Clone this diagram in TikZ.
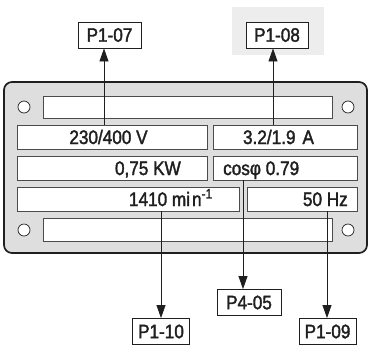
\documentclass[tikz,border=0pt]{standalone}
\usepackage{fontspec}
\setmainfont{Liberation Sans}[FakeStretch=0.88,FakeBold=1.8]
\usetikzlibrary{arrows.meta}
\definecolor{platefill}{gray}{0.87}
\definecolor{bgfill}{gray}{0.93}
\definecolor{ink}{gray}{0.12}
\begin{document}
\begin{tikzpicture}[x=1pt,y=-1pt,
  platebox/.style={draw=ink, line width=1.7pt, fill=platefill, rounded corners=8pt, inner sep=0pt, minimum width=363pt, minimum height=171pt},
  field/.style={draw=ink!80, line width=0.8pt, fill=white, inner sep=0pt, minimum height=24pt},
  txt/.style={font=\fontsize{19.5}{23}\selectfont, text=ink, inner sep=0pt},
  lbl/.style={draw=ink, line width=0.9pt, fill=white, inner sep=0pt, minimum height=26pt, font=\fontsize{19.5}{23}\selectfont, text=ink},
  hole/.style={circle, draw=ink, line width=0.7pt, fill=white, minimum size=12pt, inner sep=0pt},
  arr/.style={-{Triangle[length=13pt,width=9pt]}, line width=0.8pt, draw=ink},
  bgbox/.style={fill=bgfill, inner sep=0pt, minimum width=92pt, minimum height=48pt}
]
\useasboundingbox (0,0) rectangle (369,346);
% grey background behind P1-08
\node[bgbox] (bg108) at (278,31) {};
% plate
\node[platebox] (plate) at (185.5,167.5) {};
% holes
\node[hole] (h1) at (24,107) {};
\node[hole] (h2) at (348,107) {};
\node[hole] (h3) at (24,230) {};
\node[hole] (h4) at (348,230) {};
% fields
\node[field, minimum width=289pt, minimum height=22pt] (topbar) at (187.5,107) {};
\node[field, minimum width=190pt] (v) at (112,137) {};
\node[field, minimum width=144pt] (a) at (285,137) {};
\node[field, minimum width=190pt] (kw) at (112,168) {};
\node[field, minimum width=144pt] (cos) at (285,168) {};
\node[field, minimum width=222pt] (rpm) at (128,199) {};
\node[field, minimum width=110pt] (hz) at (302,199) {};
\node[field, minimum width=289pt, minimum height=23pt] (botbar) at (187.5,229.5) {};
% texts
\node[txt, anchor=base] (vt) at (108.5,144) {230/400 V};
\node[txt, anchor=base] (at) at (278.5,144) {3.2/1.9\hspace{7pt}A};
\node[txt, anchor=base east] (kwt) at (181,175) {0,75 KW};
\node[txt, anchor=base west] (cost) at (223,175) {cosφ 0.79};
\node[txt, anchor=base east] (rpmt) at (213,206) {1410 mi\hspace{2pt}n\textsuperscript{-1}};
\node[txt, anchor=base east] (hzt) at (348,206) {50 Hz};
% parameter labels
\node[lbl, minimum width=63pt] (p107) at (109.5,35) {P1-07};
\node[lbl, minimum width=62pt] (p108) at (277,35) {P1-08};
\node[lbl, minimum width=57pt] (p110) at (161,331.5) {P1-10};
\node[lbl, minimum width=64pt] (p405) at (249,302.5) {P4-05};
\node[lbl, minimum width=57pt] (p109) at (327.5,331.5) {P1-09};
% connector x positions
\coordinate (x1) at (104,0);
\coordinate (x2) at (273,0);
\coordinate (x3) at (161,0);
\coordinate (x4) at (243,0);
\coordinate (x5) at (327,0);
\draw[arr] (v.north -| x1) -- (p107.south -| x1);
\draw[arr] (a.north -| x2) -- (p108.south -| x2);
\draw[arr] (rpm.south -| x3) -- (p110.north -| x3);
\draw[arr] (cos.south -| x4) -- (p405.north -| x4);
\draw[arr] (hz.south -| x5) -- (p109.north -| x5);
\end{tikzpicture}
\end{document}
